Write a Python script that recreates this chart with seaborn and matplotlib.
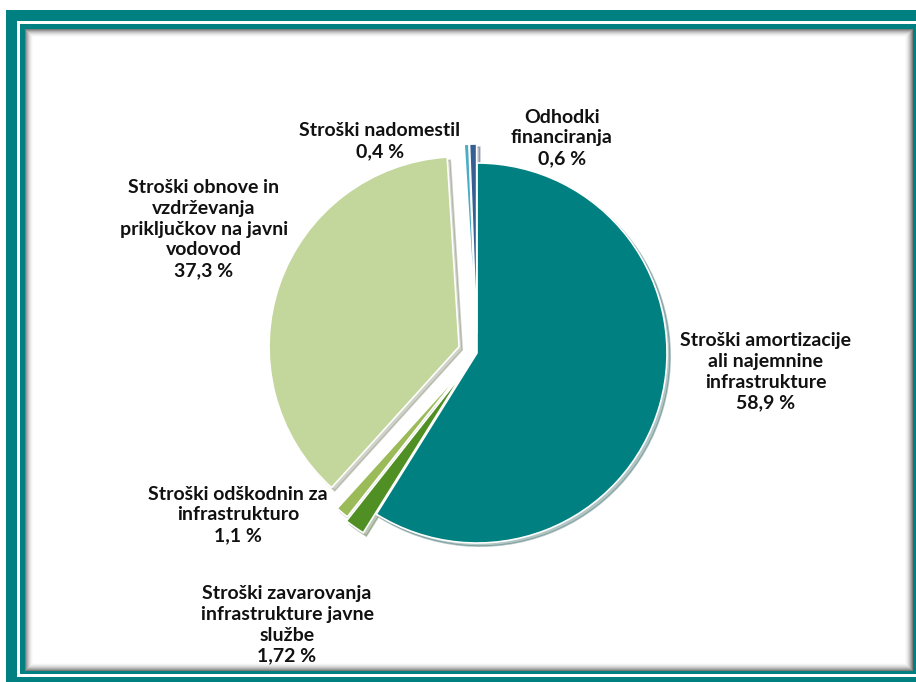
import matplotlib
matplotlib.use("Agg")
import matplotlib.pyplot as plt
from matplotlib.patches import Rectangle
import seaborn as sns

sns.set_theme(style="white")
plt.rcParams['font.family'] = ['Lato', 'DejaVu Sans']

# podatki
labels = [
    "Stroški amortizacije\nali najemnine\ninfrastrukture",
    "Stroški zavarovanja\ninfrastrukture javne\nslužbe",
    "Stroški odškodnin za\ninfrastrukturo",
    "Stroški obnove in\nvzdrževanja\npriključkov na javni\nvodovod",
    "Stroški nadomestil",
    "Odhodki\nfinanciranja",
]
values = [58.9, 1.72, 1.1, 37.3, 0.4, 0.6]
value_text = ["58,9 %", "1,72 %", "1,1 %", "37,3 %", "0,4 %", "0,6 %"]
colors = sns.color_palette(["#008080", "#4f8f23", "#9bbb59", "#c3d69b", "#4bacc6", "#366092"])
explode = [0, 0.12, 0.1, 0.1, 0.1, 0.1]

# položaji oznak (piksli na sliki)
label_px = [(766, 372), (287, 625), (238, 515), (204, 229), (380, 141), (562, 138)]

W, H = 916, 682
CX, CY, R = 477, 353, 190

fig = plt.figure(figsize=(W / 100, H / 100), dpi=100)
fig.patch.set_facecolor("white")


def rect(x0, y0, x1, y1, color, z):
    fig.add_artist(Rectangle((x0 / W, 1 - y1 / H), (x1 - x0) / W, (y1 - y0) / H,
                             transform=fig.transFigure, facecolor=color,
                             edgecolor="none", zorder=z))


# okvir
teal = "#008080"
rect(6, 10, W + 20, H + 20, teal, -20)
rect(17, 21, W + 20, 677, "white", -19)
rect(20, 24, W + 20, 674, teal, -18)
shades = ["#7d7d7d", "#999999", "#b2b2b2", "#c8c8c8", "#dadada", "#e8e8e8", "#f3f3f3", "#fbfbfb"]
for i, c in enumerate(shades):
    rect(25 + i, 29 + i, 913 - i, 671 - i, c, -17 + i * 0.01)
rect(33, 37, 905, 663, "white", -16)

# graf
ax = fig.add_axes([0, 0, 1, 1])
ax.set_facecolor("none")
wedges, _ = ax.pie(values, colors=colors, explode=explode, startangle=90,
                   counterclock=False, radius=1,
                   wedgeprops=dict(edgecolor="white", linewidth=1.2),
                   shadow={'ox': 0.012, 'oy': -0.012, 'shade': 0.5, 'alpha': 0.3})
ax.set_xlim(-CX / R, (W - CX) / R)
ax.set_ylim((CY - H) / R, CY / R)
ax.axis("off")

for lab, val, (px, py) in zip(labels, value_text, label_px):
    ax.text((px - CX) / R, (CY - py) / R, lab + "\n" + val, ha="center", va="center",
            fontsize=14, fontweight="bold", color="#111111", linespacing=1.27)

fig.savefig("out.png", dpi=100)
